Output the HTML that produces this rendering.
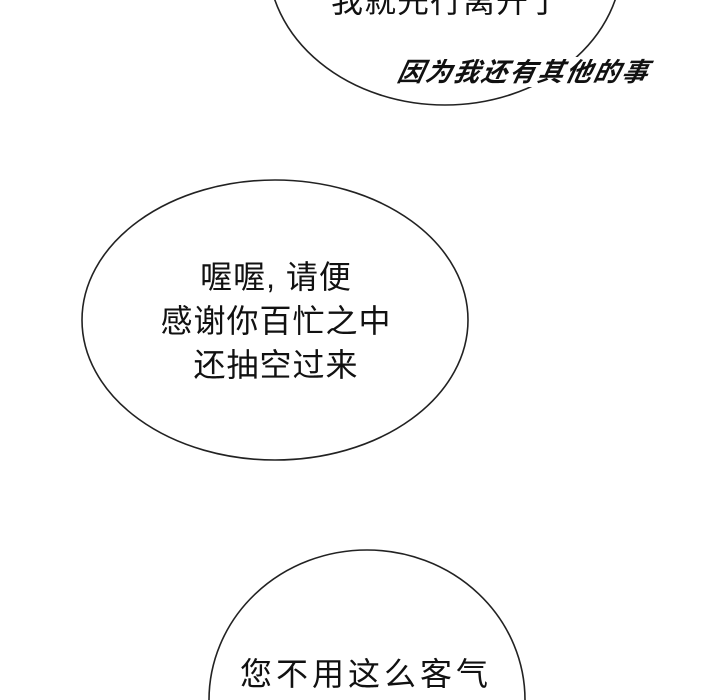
<!DOCTYPE html>
<html><head><meta charset="utf-8"><style>
html,body{margin:0;padding:0;background:#fff;overflow:hidden;width:720px;height:700px;}
body{position:relative;font-family:"Liberation Sans","Noto Sans CJK SC",sans-serif;}
.t{position:absolute;white-space:nowrap;color:#111;}
</style></head><body>
<svg width="720" height="700" style="position:absolute;left:0;top:0">
<ellipse cx="445" cy="-40" rx="177" ry="145" fill="#fff" stroke="#222" stroke-width="1.6"/>
<ellipse cx="275" cy="320" rx="193" ry="140" fill="#fff" stroke="#222" stroke-width="1.6"/>
<ellipse cx="367" cy="700" rx="158" ry="150" fill="#fff" stroke="#222" stroke-width="1.6"/>
</svg>
<div class="t" style="left:331px;top:-17px;font-size:32px;line-height:36px;letter-spacing:1px">我就先行离开了</div>
<div class="t" style="left:394px;top:57px;font-size:26px;line-height:30px;font-style:italic;font-weight:bold;background:#fff;transform:skewX(-12deg);padding:0 4px;letter-spacing:2px">因为我还有其他的事</div>
<div class="t" style="left:0;width:552px;text-align:center;top:255px;font-size:32px;line-height:44px;letter-spacing:1px">喔喔, 请便<br>感谢你百忙之中<br>还抽空过来</div>
<div class="t" style="left:240px;top:656px;font-size:32px;line-height:36px;letter-spacing:4px">您不用这么客气</div>
</body></html>
